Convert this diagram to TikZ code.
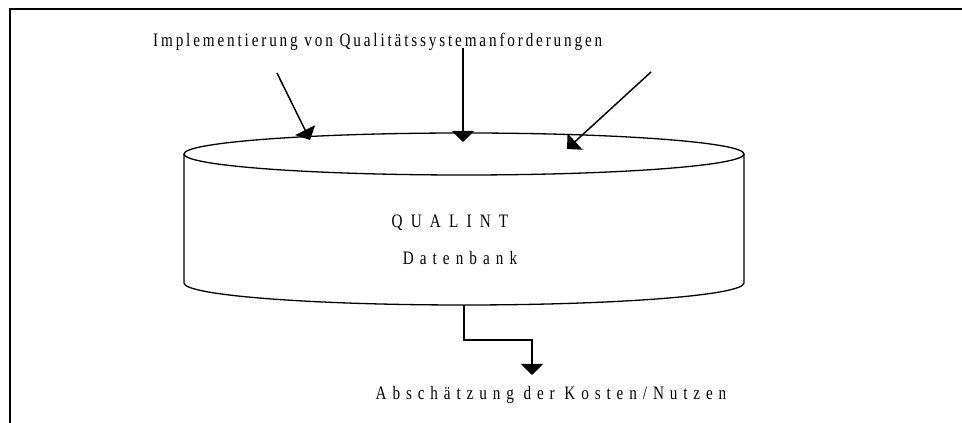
\documentclass[tikz,border=0pt]{standalone}
\usepackage{fontspec}
\setmainfont{Liberation Serif}[FakeStretch=0.8]
\usetikzlibrary{arrows.meta}

\begin{document}
\begin{tikzpicture}[x=1pt, y=1pt,
    pfeil/.style={-{Triangle[width=22pt, length=11pt]}, line width=1.5pt},
    schrift/.style={inner sep=0pt, font=\fontsize{19}{22}\selectfont}]
    \useasboundingbox (0,0) rectangle (962,423);
    % frame
    \draw[line width=1.6pt] (10,0) -- (10,414) -- (962,414);
    % database cylinder
    \coordinate (oben) at (464,269);
    \coordinate (unten) at (464,118);
    \draw[line width=1.3pt] (oben) ellipse [x radius=280, y radius=21];
    \draw[line width=1.3pt] (184,269) -- (184,140)
        arc [start angle=180, end angle=360, x radius=280, y radius=22] -- (744,269);
    \node[schrift, anchor=base] (qualint) at (450,195) {\addfontfeatures{LetterSpace=43}QUALINT};
    \node[schrift, anchor=base] (db) at (460,158) {\addfontfeatures{LetterSpace=32}Datenbank};
    % inputs
    \node[schrift, anchor=base west] (anf) at (153,376) {\addfontfeatures{LetterSpace=15}Implementierung von Qualitätssystemanforderungen};
    \coordinate (in1) at (277,350);
    \coordinate (in2) at (463,375);
    \coordinate (in3) at (651,351);
    \coordinate (t1) at (310,283);
    \coordinate (t2) at (463,281);
    \coordinate (t3) at (567,274);
    \draw[pfeil] (in1) -- (t1);
    \draw[pfeil] (in2) -- (t2);
    \draw[pfeil] (in3) -- (t3);
    % output
    \node[schrift, anchor=base] (kn) at (551,23) {\addfontfeatures{LetterSpace=31}Abschätzung der Kosten/Nutzen};
    \coordinate (knick) at (532,83);
    \draw[pfeil] (unten) |- (knick) -- (532,48);
\end{tikzpicture}
\end{document}
